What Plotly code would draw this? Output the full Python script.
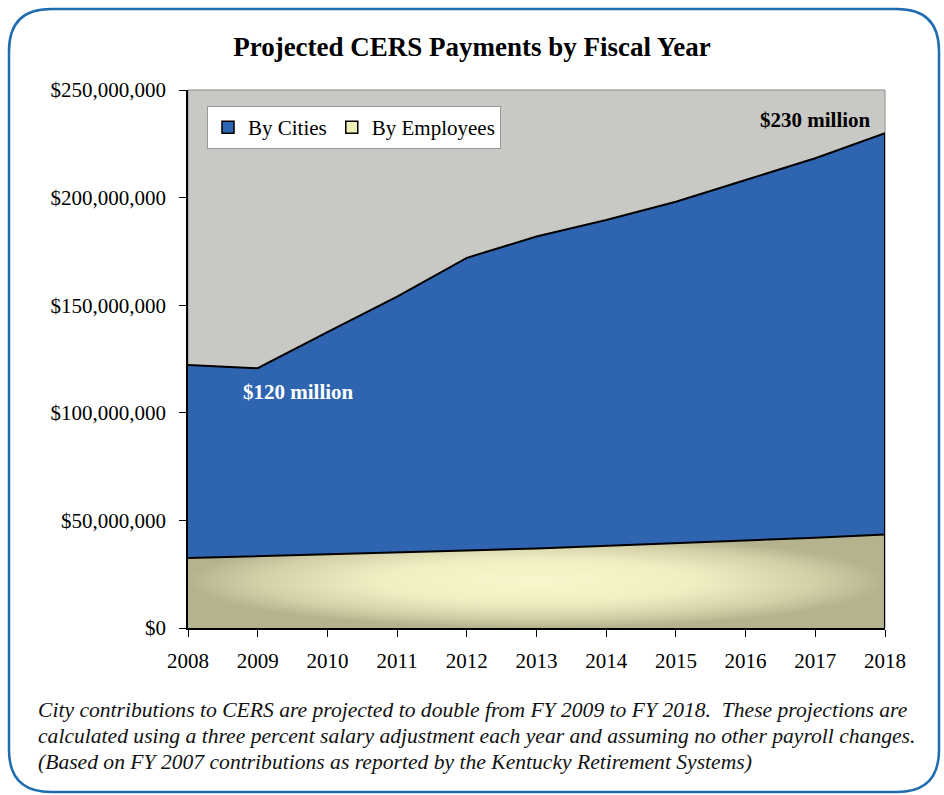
import numpy as np
import plotly.graph_objects as go

years = [2008, 2009, 2010, 2011, 2012, 2013, 2014, 2015, 2016, 2017, 2018]
by_employees = [32.5, 33.3, 34.2, 35.0, 36.0, 37.0, 38.2, 39.3, 40.6, 41.9, 43.5]  # $ millions
by_cities = [89.7, 87.4, 103.3, 119.0, 136.0, 144.9, 151.4, 158.8, 167.6, 176.4, 186.4]  # $ millions
y_ticks = [0, 50, 100, 150, 200, 250]
y_tick_labels = ["$0", "$50,000,000", "$100,000,000", "$150,000,000", "$200,000,000", "$250,000,000"]
caption_lines = [
    "City contributions to CERS are projected to double from FY 2009 to FY 2018.  These projections are",
    "calculated using a three percent salary adjustment each year and assuming no other payroll changes.",
    "(Based on FY 2007 contributions as reported by the Kentucky Retirement Systems)",
]

emp = np.array(by_employees) * 1e6
total = emp + np.array(by_cities) * 1e6

W, H = 944, 795
L, R, T, B = 188, 59, 90, 167
pw, ph = W - L - R, H - T - B

def fx(px):
    return (px - L) / pw

def fy(py):
    return (H - B - py) / ph

SERIF = "Liberation Serif, Times New Roman, serif"
BLUE = "#2f65b0"

fig = go.Figure()

fig.add_trace(go.Scatter(
    x=years, y=emp, mode="lines", fill="tozeroy",
    line=dict(color="black", width=2),
    fillgradient=dict(type="radial", colorscale=[[0, "#f8f7cb"], [0.45, "#f1efc2"], [0.8, "#d3d0a8"], [1, "#b5b28e"]]),
    showlegend=False, hoverinfo="skip",
))
fig.add_trace(go.Scatter(
    x=years, y=total, mode="lines", fill="tonexty",
    line=dict(color="black", width=2),
    fillcolor=BLUE,
    showlegend=False, hoverinfo="skip",
))
# legend entries
fig.add_trace(go.Bar(x=[None], y=[None], name="By Cities",
                     marker=dict(color=BLUE, line=dict(color="black", width=1.5))))
fig.add_trace(go.Bar(x=[None], y=[None], name="By Employees",
                     marker=dict(color="#eef0b8", line=dict(color="black", width=1.5))))

# right edge outline of the areas
fig.add_shape(type="line", x0=years[-1], x1=years[-1], y0=0, y1=total[-1],
              xref="x", yref="y", line=dict(color="black", width=2))

# rounded frame
fl, ft, fr, fb, rr = 9, 9, 939, 792, 42
path = (
    f"M {fx(fl+rr)},{fy(ft)} L {fx(fr-rr)},{fy(ft)} Q {fx(fr)},{fy(ft)} {fx(fr)},{fy(ft+rr)} "
    f"L {fx(fr)},{fy(fb-rr)} Q {fx(fr)},{fy(fb)} {fx(fr-rr)},{fy(fb)} "
    f"L {fx(fl+rr)},{fy(fb)} Q {fx(fl)},{fy(fb)} {fx(fl)},{fy(fb-rr)} "
    f"L {fx(fl)},{fy(ft+rr)} Q {fx(fl)},{fy(ft)} {fx(fl+rr)},{fy(ft)} Z"
)
fig.add_shape(type="path", path=path, xref="paper", yref="paper",
              line=dict(color="#1f6cb0", width=2.5), layer="above")
# plot area border
fig.add_shape(type="rect", x0=0, x1=1, y0=0, y1=1, xref="paper", yref="paper",
              line=dict(color="#8a8a8a", width=1), layer="below")

fig.add_annotation(x=years[-1], y=total[-1], xref="x", yref="y", text="<b>$230 million</b>",
                   showarrow=False, xanchor="right", yanchor="bottom", xshift=-12, yshift=-1,
                   font=dict(family=SERIF, size=21, color="black"))
fig.add_annotation(x=years[1], y=total[1], xref="x", yref="y", text="<b>$120 million</b>",
                   showarrow=False, xanchor="left", yanchor="top", xshift=-17, yshift=-10,
                   font=dict(family=SERIF, size=21, color="white"))

for i, line in enumerate(caption_lines):
    fig.add_annotation(x=fx(36), y=fy(710 + 26 * i), xref="paper", yref="paper", text=f"<i>{line}</i>",
                       showarrow=False, xanchor="left", yanchor="middle", align="left",
                       font=dict(family=SERIF, size=21.6, color="#111"))

fig.update_layout(
    width=W, height=H,
    margin=dict(l=L, r=R, t=T, b=B, autoexpand=False),
    paper_bgcolor="white", plot_bgcolor="#c8c8c4",
    title=dict(text="<b>Projected CERS Payments by Fiscal Year</b>", x=0.5, xref="container",
               xanchor="center", y=1 - 47 / H, yref="container", yanchor="middle",
               font=dict(family=SERIF, size=27, color="black")),
    font=dict(family=SERIF, size=21, color="black"),
    legend=dict(orientation="h", x=fx(207), y=fy(106), xanchor="left", yanchor="top",
                bgcolor="white", bordercolor="#999", borderwidth=1,
                font=dict(family=SERIF, size=21), traceorder="normal",
                itemwidth=30, tracegroupgap=0),
    showlegend=True,
    xaxis=dict(range=[years[0], years[-1]], tickvals=years, ticktext=[str(y) for y in years],
               showgrid=False, zeroline=False, showline=True, linecolor="black", linewidth=1.5,
               ticks="outside", ticklen=7, tickcolor="black", ticklabelstandoff=6, fixedrange=True),
    yaxis=dict(range=[0, 250e6], tickvals=[v * 1e6 for v in y_ticks], ticktext=y_tick_labels,
               showgrid=False, zeroline=False, showline=True, linecolor="black", linewidth=1.5,
               ticks="outside", ticklen=7, tickcolor="black", ticklabelstandoff=9, fixedrange=True),
)

fig.write_html("out.html", config={"displayModeBar": False},
               post_script="document.body.style.margin='0';")
